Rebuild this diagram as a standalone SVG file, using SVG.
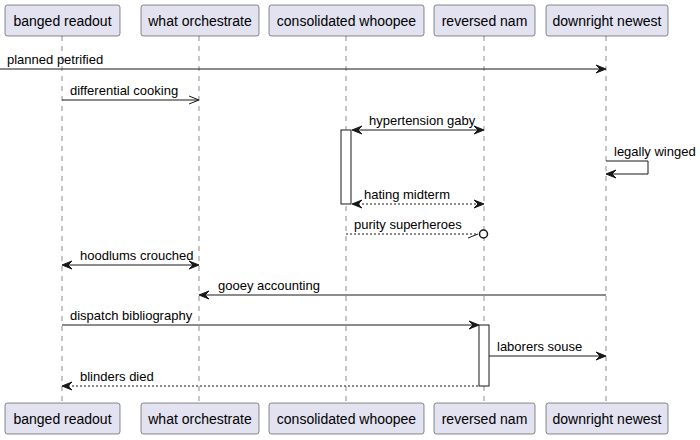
<svg xmlns="http://www.w3.org/2000/svg" width="700" height="440" viewBox="0 0 700 440">
<defs>
<style>
.box{fill:#E2E2F0;stroke:#181818;stroke-width:0.5}
.pt{font-family:"Liberation Sans",Arial,sans-serif;font-size:14px;fill:#000;text-anchor:middle}
.life{stroke:#181818;stroke-width:0.5;stroke-dasharray:5,5;fill:none}
.msg{stroke:#181818;stroke-width:1;fill:none}
.dash{stroke:#181818;stroke-width:1;stroke-dasharray:2,2;fill:none}
.head{fill:#181818;stroke:#181818;stroke-width:1}
.act{fill:#FFFFFF;stroke:#181818;stroke-width:1}
.mt{font-family:"Liberation Sans",Arial,sans-serif;font-size:13px;fill:#000}
</style>
</defs>
<rect width="700" height="440" fill="#FFFFFF"/>
<g id="lifelines">
<line class="life" x1="62" y1="36" x2="62" y2="403"/>
<line class="life" x1="199" y1="36" x2="199" y2="403"/>
<line class="life" x1="346" y1="36" x2="346" y2="403"/>
<line class="life" x1="484" y1="36" x2="484" y2="403"/>
<line class="life" x1="606" y1="36" x2="606" y2="403"/>
</g>
<g id="p-banged-readout">
<rect class="box" x="5" y="5" width="115" height="31" rx="2.5"/>
<text class="pt" x="62.5" y="26">banged readout</text>
<rect class="box" x="5" y="403" width="115" height="31" rx="2.5"/>
<text class="pt" x="62.5" y="424">banged readout</text>
</g>
<g id="p-what-orchestrate">
<rect class="box" x="141" y="5" width="118" height="31" rx="2.5"/>
<text class="pt" x="200" y="26">what orchestrate</text>
<rect class="box" x="141" y="403" width="118" height="31" rx="2.5"/>
<text class="pt" x="200" y="424">what orchestrate</text>
</g>
<g id="p-consolidated-whoopee">
<rect class="box" x="269" y="5" width="155" height="31" rx="2.5"/>
<text class="pt" x="346.5" y="26">consolidated whoopee</text>
<rect class="box" x="269" y="403" width="155" height="31" rx="2.5"/>
<text class="pt" x="346.5" y="424">consolidated whoopee</text>
</g>
<g id="p-reversed-nam">
<rect class="box" x="434" y="5" width="101" height="31" rx="2.5"/>
<text class="pt" x="484.5" y="26">reversed nam</text>
<rect class="box" x="434" y="403" width="101" height="31" rx="2.5"/>
<text class="pt" x="484.5" y="424">reversed nam</text>
</g>
<g id="p-downright-newest">
<rect class="box" x="546" y="5" width="122" height="31" rx="2.5"/>
<text class="pt" x="607" y="26">downright newest</text>
<rect class="box" x="546" y="403" width="122" height="31" rx="2.5"/>
<text class="pt" x="607" y="424">downright newest</text>
</g>
<g id="activations">
<rect class="act" x="341" y="130" width="10" height="74"/>
<rect class="act" x="479" y="325" width="10" height="61"/>
</g>
<g id="connectors">
<line class="msg" x1="0" y1="69" x2="604" y2="69"/>
<polygon class="head" points="596,65 606,69 596,73 600,69"/>
<text class="mt" x="7" y="64">planned petrified</text>

<line class="msg" x1="62" y1="100" x2="198" y2="100"/>
<line class="msg" x1="189" y1="96" x2="199" y2="100"/>
<line class="msg" x1="189" y1="104" x2="199" y2="100"/>
<text class="mt" x="70" y="95">differential cooking</text>

<line class="msg" x1="354" y1="130" x2="482" y2="130"/>
<polygon class="head" points="362,126 352,130 362,134 358,130"/>
<polygon class="head" points="474,126 484,130 474,134 478,130"/>
<text class="mt" x="369" y="125">hypertension gaby</text>

<polyline class="msg" points="606,161 648,161 648,174 607,174"/>
<polygon class="head" points="616,170 606,174 616,178 612,174"/>
<text class="mt" x="614" y="156">legally winged</text>

<line class="dash" x1="354" y1="204" x2="482" y2="204"/>
<polygon class="head" points="362,200 352,204 362,208 358,204"/>
<polygon class="head" points="474,200 484,204 474,208 478,204"/>
<text class="mt" x="364" y="199">hating midterm</text>

<line class="dash" x1="346" y1="234" x2="478" y2="234"/>
<line class="msg" x1="468" y1="238" x2="478" y2="234"/>
<circle cx="483.5" cy="234" r="4" fill="#FFFFFF" stroke="#181818" stroke-width="1.5"/>
<text class="mt" x="354" y="229">purity superheroes</text>

<line class="msg" x1="64" y1="265" x2="197" y2="265"/>
<polygon class="head" points="72,261 62,265 72,269 68,265"/>
<polygon class="head" points="189,261 199,265 189,269 193,265"/>
<text class="mt" x="80" y="260">hoodlums crouched</text>

<line class="msg" x1="201" y1="295" x2="606" y2="295"/>
<polygon class="head" points="209,291 199,295 209,299 205,295"/>
<text class="mt" x="218" y="290">gooey accounting</text>

<line class="msg" x1="62" y1="325" x2="477" y2="325"/>
<polygon class="head" points="469,321 479,325 469,329 473,325"/>
<text class="mt" x="70" y="320">dispatch bibliography</text>

<line class="msg" x1="489" y1="356" x2="604" y2="356"/>
<polygon class="head" points="596,352 606,356 596,360 600,356"/>
<text class="mt" x="497" y="351">laborers souse</text>

<line class="dash" x1="64" y1="386" x2="479" y2="386"/>
<polygon class="head" points="72,382 62,386 72,390 68,386"/>
<text class="mt" x="80" y="381">blinders died</text>
</g>
</svg>
